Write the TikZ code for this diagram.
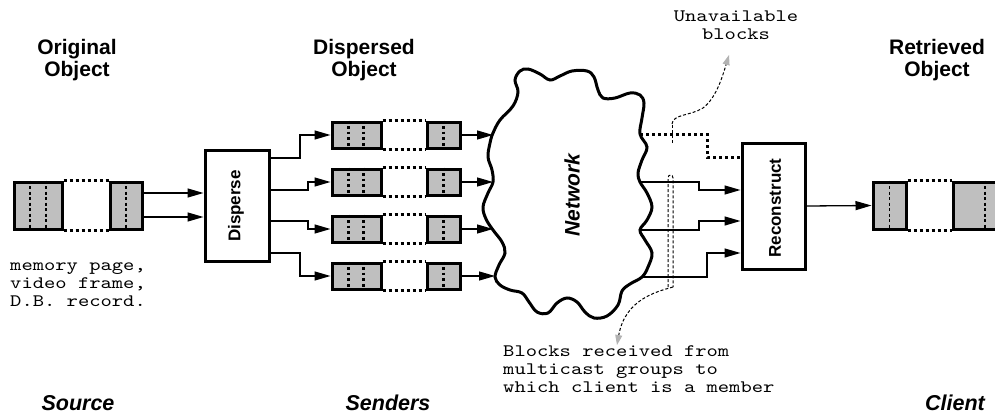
\documentclass[tikz,border=0pt]{standalone}
\usepackage{fontspec}
\setmainfont{Liberation Sans}
\newfontfamily\typewriter[FakeStretch=1.23]{lmmono10-regular.otf}
\usetikzlibrary{arrows.meta}
\begin{document}
\begin{tikzpicture}[x=1pt,y=-1pt,
  blk/.style={draw, line width=3pt, fill=gray!50, inner sep=0pt},
  proc/.style={draw, line width=3pt, fill=white, inner sep=0pt},
  conn/.style={line width=1.3pt},
  arr/.style={conn, -{Triangle[length=16pt,width=9pt]}},
  gap/.style={line width=3pt, dash pattern=on 3pt off 3pt},
  split/.style={line width=1.2pt, dash pattern=on 3pt off 2.5pt},
  splitdot/.style={line width=2.6pt, dash pattern=on 2.6pt off 3pt},
  lost/.style={line width=3pt, dash pattern=on 3pt off 3pt},
  note/.style={line width=1pt, dash pattern=on 3pt off 2pt},
  notearr/.style={note, -{Triangle[length=10pt,width=7pt,fill=gray!60,color=gray!60]}},
  title/.style={font=\bfseries\fontsize{21}{22.5}\selectfont, align=center, inner sep=0pt},
  role/.style={font=\bfseries\itshape\fontsize{21.5}{24}\selectfont, inner sep=0pt},
  boxlabel/.style={rotate=90, font=\bfseries\fontsize{17}{17}\selectfont, inner sep=0pt},
  mono/.style={font=\typewriter\fontsize{17.5}{18}\selectfont, inner sep=0pt},
]
\clip (0,0) rectangle (995,415);

% original object
\node[blk, minimum width=48pt, minimum height=47pt] (o1) at (38,205.5) {};
\node[blk, minimum width=32pt, minimum height=47pt] (o2) at (126,205.5) {};
\draw[gap] (o1.north east) -- (o2.north west);
\draw[gap] (o1.south east) -- (o2.south west);
\draw[split] ([xshift=-8pt]o1.north) -- ([xshift=-8pt]o1.south);
\draw[split] ([xshift=8pt]o1.north) -- ([xshift=8pt]o1.south);
\draw[split] (o2.north) -- (o2.south);

% disperse step
\node[proc, minimum width=64pt, minimum height=111pt] (disp) at (237,205.5) {};
\node[boxlabel] at (236,206) {Disperse};
\draw[arr] (o2.east |- 0,193) -- (disp.west |- 0,193);
\draw[arr] (o2.east |- 0,217) -- (disp.west |- 0,217);

% dispersed object, one row per sender
\foreach \i/\y in {1/135,2/182,3/229,4/276}{
  \node[blk, minimum width=49pt, minimum height=26pt] (a\i) at (356.5,\y) {};
  \node[blk, minimum width=33pt, minimum height=26pt] (b\i) at (443.5,\y) {};
  \draw[gap] (a\i.north east) -- (b\i.north west);
  \draw[gap] (a\i.south east) -- (b\i.south west);
  \draw[splitdot] ([xshift=-8.2pt]a\i.north) -- ([xshift=-8.2pt]a\i.south);
  \draw[splitdot] ([xshift=6.8pt]a\i.north) -- ([xshift=6.8pt]a\i.south);
  \draw[splitdot] (b\i.north) -- (b\i.south);
}
\draw[arr] (disp.east |- 0,158) -- (300,158) |- (a1.west);
\draw[arr] (disp.east |- 0,190) -- (308,190) |- (a2.west);
\draw[arr] (disp.east |- 0,221) -- (308,221) |- (a3.west);
\draw[arr] (disp.east |- 0,253) -- (300,253) |- (a4.west);

% network cloud
\draw[line width=3pt, fill=white] plot[smooth cycle, tension=0.6] coordinates {
  (493,133) (500,120) (513,106) (518,92) (515,80) (520,71) (528,69) (540,74)
  (550,80) (560,76) (572,71) (587,71) (594,77) (598,90) (603,98) (615,98)
  (630,93) (640,95) (644,103) (642,118) (640,134) (647,147) (642,160)
  (638,173) (640,182) (647,193) (652,207) (647,220) (640,230) (645,240)
  (652,253) (648,267) (642,277) (630,284) (622,291) (618,305) (607,316)
  (594,318) (585,312) (577,302) (567,298) (557,303) (548,313) (537,312)
  (529,302) (522,293) (510,290) (500,285) (495,277) (499,265) (505,253)
  (502,242) (493,230) (486,219) (483,207) (488,193) (493,182) (492,170)
  (488,157) (490,143)};
\node[rotate=90, font=\bfseries\itshape\fontsize{21}{21}\selectfont, inner sep=0pt] (net) at (572,195) {Network};
\coordinate (cin1) at (493,133);
\coordinate (cin2) at (493,182);
\coordinate (cin3) at (493,230);
\coordinate (cin4) at (495,277);
\coordinate (cout1) at (640,134);
\coordinate (cout2) at (640,182);
\coordinate (cout3) at (640,230);
\coordinate (cout4) at (642,277);
\foreach \i in {1,...,4} \draw[arr] (b\i.east) -- (b\i.east -| cin\i);

% reconstruct step
\node[proc, minimum width=63pt, minimum height=126pt] (rec) at (773.5,206) {};
\node[boxlabel] at (775,208) {Reconstruct};
\draw[lost] (cout1) -- (707,134) |- (rec.west |- 0,157);
\draw[arr] (cout2) -- (699,182) |- (rec.west |- 0,190);
\draw[arr] (cout3) -- (699,230) |- (rec.west |- 0,221);
\draw[arr] (cout4) -- (707,277) |- (rec.west |- 0,253);

% retrieved object
\node[blk, minimum width=33pt, minimum height=47pt] (r1) at (889.5,205.5) {};
\node[blk, minimum width=48pt, minimum height=47pt] (r2) at (977,205.5) {};
\draw[gap] (r1.north east) -- (r2.north west);
\draw[gap] (r1.south east) -- (r2.south west);
\draw[split] (r1.north) -- (r1.south);
\draw[split] ([xshift=8pt]r2.north) -- ([xshift=8pt]r2.south);
\draw[arr] (rec.east) -- (r1.west);

% annotations
\coordinate (lostmark) at (672,124);
\coordinate (losttip) at (729,55);
\coordinate (recvtip) at (617,345);
\draw[note] (672,143) -- (lostmark);
\draw[notearr] (lostmark) .. controls (673,114) and (690,116) .. (703,108)
  .. controls (716,98) and (722,78) .. (losttip);
\draw[note] (668,287) -- (668,178) .. controls (668,174) and (673,174) .. (673,178) -- (673,287);
\draw[notearr] (673,287) .. controls (655,292) and (625,300) .. (recvtip);

% texts
\node[title] (t1) at (77,60) {Original\\Object};
\node[title] (t2) at (364,60) {Dispersed\\Object};
\node[title] (t3) at (937,60) {Retrieved\\Object};
\node[role] (s1) at (78,403) {Source};
\node[role] (s2) at (388,403) {Senders};
\node[role] (s3) at (955,403) {Client};
\node[mono, align=left, anchor=west] (m1) at (10,285) {memory page,\\video frame,\\D.B. record.};
\node[mono, align=left, anchor=west] (m2) at (503,369) {Blocks received from\\multicast groups to\\which client is a member};
\node[mono, align=center] (m3) at (736,25) {Unavailable\\blocks};
\end{tikzpicture}
\end{document}
